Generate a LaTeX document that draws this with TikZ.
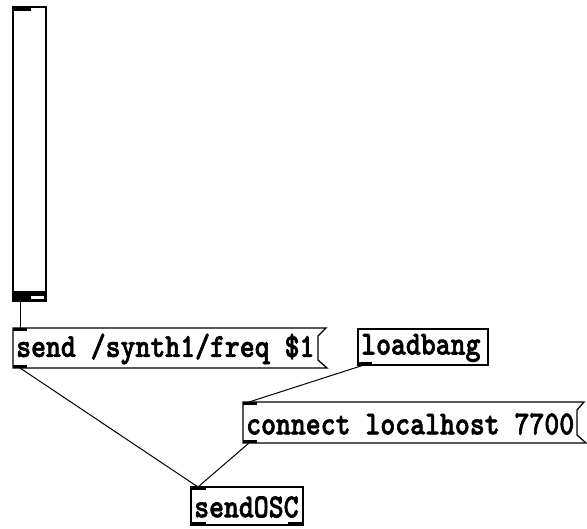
\documentclass[tikz,border=0pt]{standalone}
\usepackage{fontspec}
\usepackage{graphicx}
\newfontfamily\pdfont{lmmonolt10-bold.otf}[FakeBold=2]
\newcommand{\pdtxt}[1]{\scalebox{1}[1.18]{#1}}
\begin{document}
\begin{tikzpicture}[x=1pt,y=-1pt,
  box/.style={draw=black,line width=1.3pt},
  port/.style={fill=black},
  wire/.style={draw=black,line width=1pt},
  lbl/.style={anchor=west,inner sep=0pt,font=\fontsize{28.4}{30}\pdfont}]
\useasboundingbox (0,0) rectangle (587,529);
% slider
\draw[box] (13,7) rectangle (46,301);
\fill[port] (13,7) rectangle (31,11);
\fill[port] (13,291) rectangle (46,301);
\fill[white] (31,296.5) rectangle (44,299);
\coordinate (sl) at (20.5,301);
% send message box
\draw[box] (326,328) -- (13,328) -- (13,368) -- (327,368) -- (318,360) -- (318,336) -- cycle;
\fill[port] (13,328) rectangle (27,331);
\fill[port] (13,365) rectangle (27,368);
\node[lbl] (send) at (16,349) {\pdtxt{send /synth1/freq \$1}};
\coordinate (sendin) at (20.5,328);
\coordinate (sendout) at (20,368);
% loadbang
\draw[box] (358,329) rectangle (488,365);
\fill[port] (358,362) rectangle (372,365);
\node[lbl] (lb) at (361,348) {\pdtxt{loadbang}};
\coordinate (lbout) at (364,365);
% connect message box
\draw[box] (584,402) -- (243,402) -- (243,443) -- (586,443) -- (577,435) -- (577,410) -- cycle;
\fill[port] (243,402) rectangle (257,405);
\fill[port] (243,440) rectangle (257,443);
\node[lbl] (conn) at (246,424) {\pdtxt{connect localhost 7700}};
\coordinate (connin) at (249,402);
\coordinate (connout) at (249,443);
% sendOSC
\draw[box] (191,487) rectangle (303,525);
\fill[port] (191,487) rectangle (206,490);
\fill[port] (191,522) rectangle (206,525);
\fill[port] (288,522) rectangle (303,525);
\node[lbl] (osc) at (194,507) {\pdtxt{sendOSC}};
\coordinate (oscin) at (198,487);
% wires
\draw[wire] (sl) -- (sendin);
\draw[wire] (sendout) -- (oscin);
\draw[wire] (lbout) -- (connin);
\draw[wire] (connout) -- (oscin);
\end{tikzpicture}
\end{document}
